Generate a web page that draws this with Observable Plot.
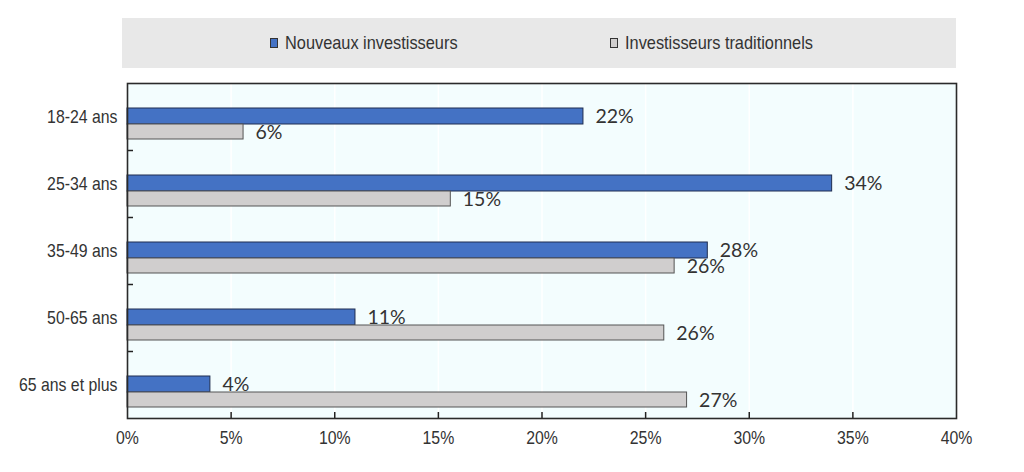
<!DOCTYPE html>
<html>
<head>
<meta charset="utf-8">
<script src="https://cdn.jsdelivr.net/npm/d3@7"></script>
<script src="https://cdn.jsdelivr.net/npm/@observablehq/plot@0.6"></script>
<style>
  html, body { margin: 0; padding: 0; background: #ffffff; }
  body { width: 1024px; height: 472px; overflow: hidden; position: relative; }
  #legend {
    position: absolute; left: 122px; top: 18px; width: 834px; height: 50px;
    background: #e8e8e8;
    font-family: "Liberation Sans", Arial, sans-serif;
    font-size: 19px; color: #333;
  }
  .item { position: absolute; top: 0; height: 50px; display: flex; align-items: center; white-space: nowrap; }
  .sw { width: 6px; height: 8px; border: 1px solid #333; margin-right: 7px; flex: none; }
  .tx { display: inline-block; transform: scaleX(0.86); transform-origin: 0 50%; }
  #chart { position: absolute; left: 0; top: 68px; }
</style>
</head>
<body>
<div id="legend"></div>
<div id="chart"></div>
<script>
const categories = ["18-24 ans", "25-34 ans", "35-49 ans", "50-65 ans", "65 ans et plus"];
const seriesNames = ["Nouveaux investisseurs", "Investisseurs traditionnels"];
const nouveaux = [22, 34, 28, 11, 4];
const traditionnels = [5.6, 15.6, 26.4, 25.9, 27];
const nouveauxLabels = ["22%", "34%", "28%", "11%", "4%"];
const traditionnelsLabels = ["6%", "15%", "26%", "26%", "27%"];
const xTicks = [0, 5, 10, 15, 20, 25, 30, 35, 40];
const xTickLabels = ["0%", "5%", "10%", "15%", "20%", "25%", "30%", "35%", "40%"];

const blue = "#4472c4";
const grey = "#d0cece";
const colors = [blue, grey];
const sans = "'Liberation Sans', Arial, sans-serif";

// legend
const legend = document.getElementById("legend");
const legendLeft = [148, 488];
seriesNames.forEach((name, i) => {
  const it = document.createElement("div");
  it.className = "item";
  it.style.left = legendLeft[i] + "px";
  const sw = document.createElement("span");
  sw.className = "sw";
  sw.style.background = colors[i];
  const tx = document.createElement("span");
  tx.className = "tx";
  tx.textContent = name;
  it.appendChild(sw); it.appendChild(tx);
  legend.appendChild(it);
});

const rows = categories.map((c, i) => ({
  cat: c, nouveau: nouveaux[i], trad: traditionnels[i],
  nl: nouveauxLabels[i], tl: traditionnelsLabels[i]
}));

const W = 1024, H = 404, mt = 15, mb = 54, ml = 127, mr = 68;
const innerH = H - mt - mb;
const bw = innerH / categories.length;
const innerW = W - ml - mr;

const chart = Plot.plot({
  width: W, height: H,
  marginTop: mt, marginBottom: mb, marginLeft: ml, marginRight: mr,
  style: { fontFamily: sans, color: "#333", background: "transparent" },
  x: { domain: [0, 40], label: null },
  y: { domain: categories, padding: 0, label: null },
  marks: [
    Plot.frame({ fill: "#f3fdfe", stroke: null }),
    Plot.ruleX(xTicks.slice(1, -1), { stroke: "#ffffff", strokeWidth: 1.5 }),
    Plot.barX(rows, { x: "nouveau", y: "cat", fill: blue, stroke: "#1f2d50", strokeWidth: 1, insetTop: 25, insetBottom: 26 }),
    Plot.barX(rows, { x: "trad", y: "cat", fill: grey, stroke: "#555555", strokeWidth: 1, insetTop: 41, insetBottom: 11 }),
    Plot.ruleY(categories.slice(1), { dy: -bw / 2, insetRight: innerW - 6, stroke: "#222", strokeWidth: 1.5 }),
    Plot.ruleX(xTicks.slice(1, -1), { insetTop: innerH - 6, stroke: "#222", strokeWidth: 1.5 }),
    Plot.frame({ stroke: "#2a2a2a", strokeWidth: 1.6 }),
    Plot.axisX(xTicks, { tickSize: 0, tickPadding: 13, fontSize: 18, tickFormat: (d, i) => xTickLabels[i], fill: "#333", className: "narrow" }),
    Plot.axisY({ tickSize: 0, tickPadding: 10, fontSize: 18, fill: "#333", className: "narrow" }),
    Plot.text(rows, { x: "nouveau", y: "cat", text: "nl", dx: 12, dy: 0, textAnchor: "start", fontFamily: "Lato", fontSize: 19.5, fill: "#333" }),
    Plot.text(rows, { x: "trad", y: "cat", text: "tl", dx: 12, dy: 16, textAnchor: "start", fontFamily: "Lato", fontSize: 19.5, fill: "#333" })
  ]
});

// condense axis tick labels (narrow font look), scaling about each label's anchor
chart.querySelectorAll("g.narrow text").forEach(t => {
  const xa = parseFloat(t.getAttribute("x"));
  const x = Number.isFinite(xa) ? xa : 0;
  const tr = t.getAttribute("transform") || "";
  t.setAttribute("transform", `${tr} translate(${x},0) scale(0.88,1) translate(${-x},0)`.trim());
});
document.getElementById("chart").appendChild(chart);
</script>
</body>
</html>
